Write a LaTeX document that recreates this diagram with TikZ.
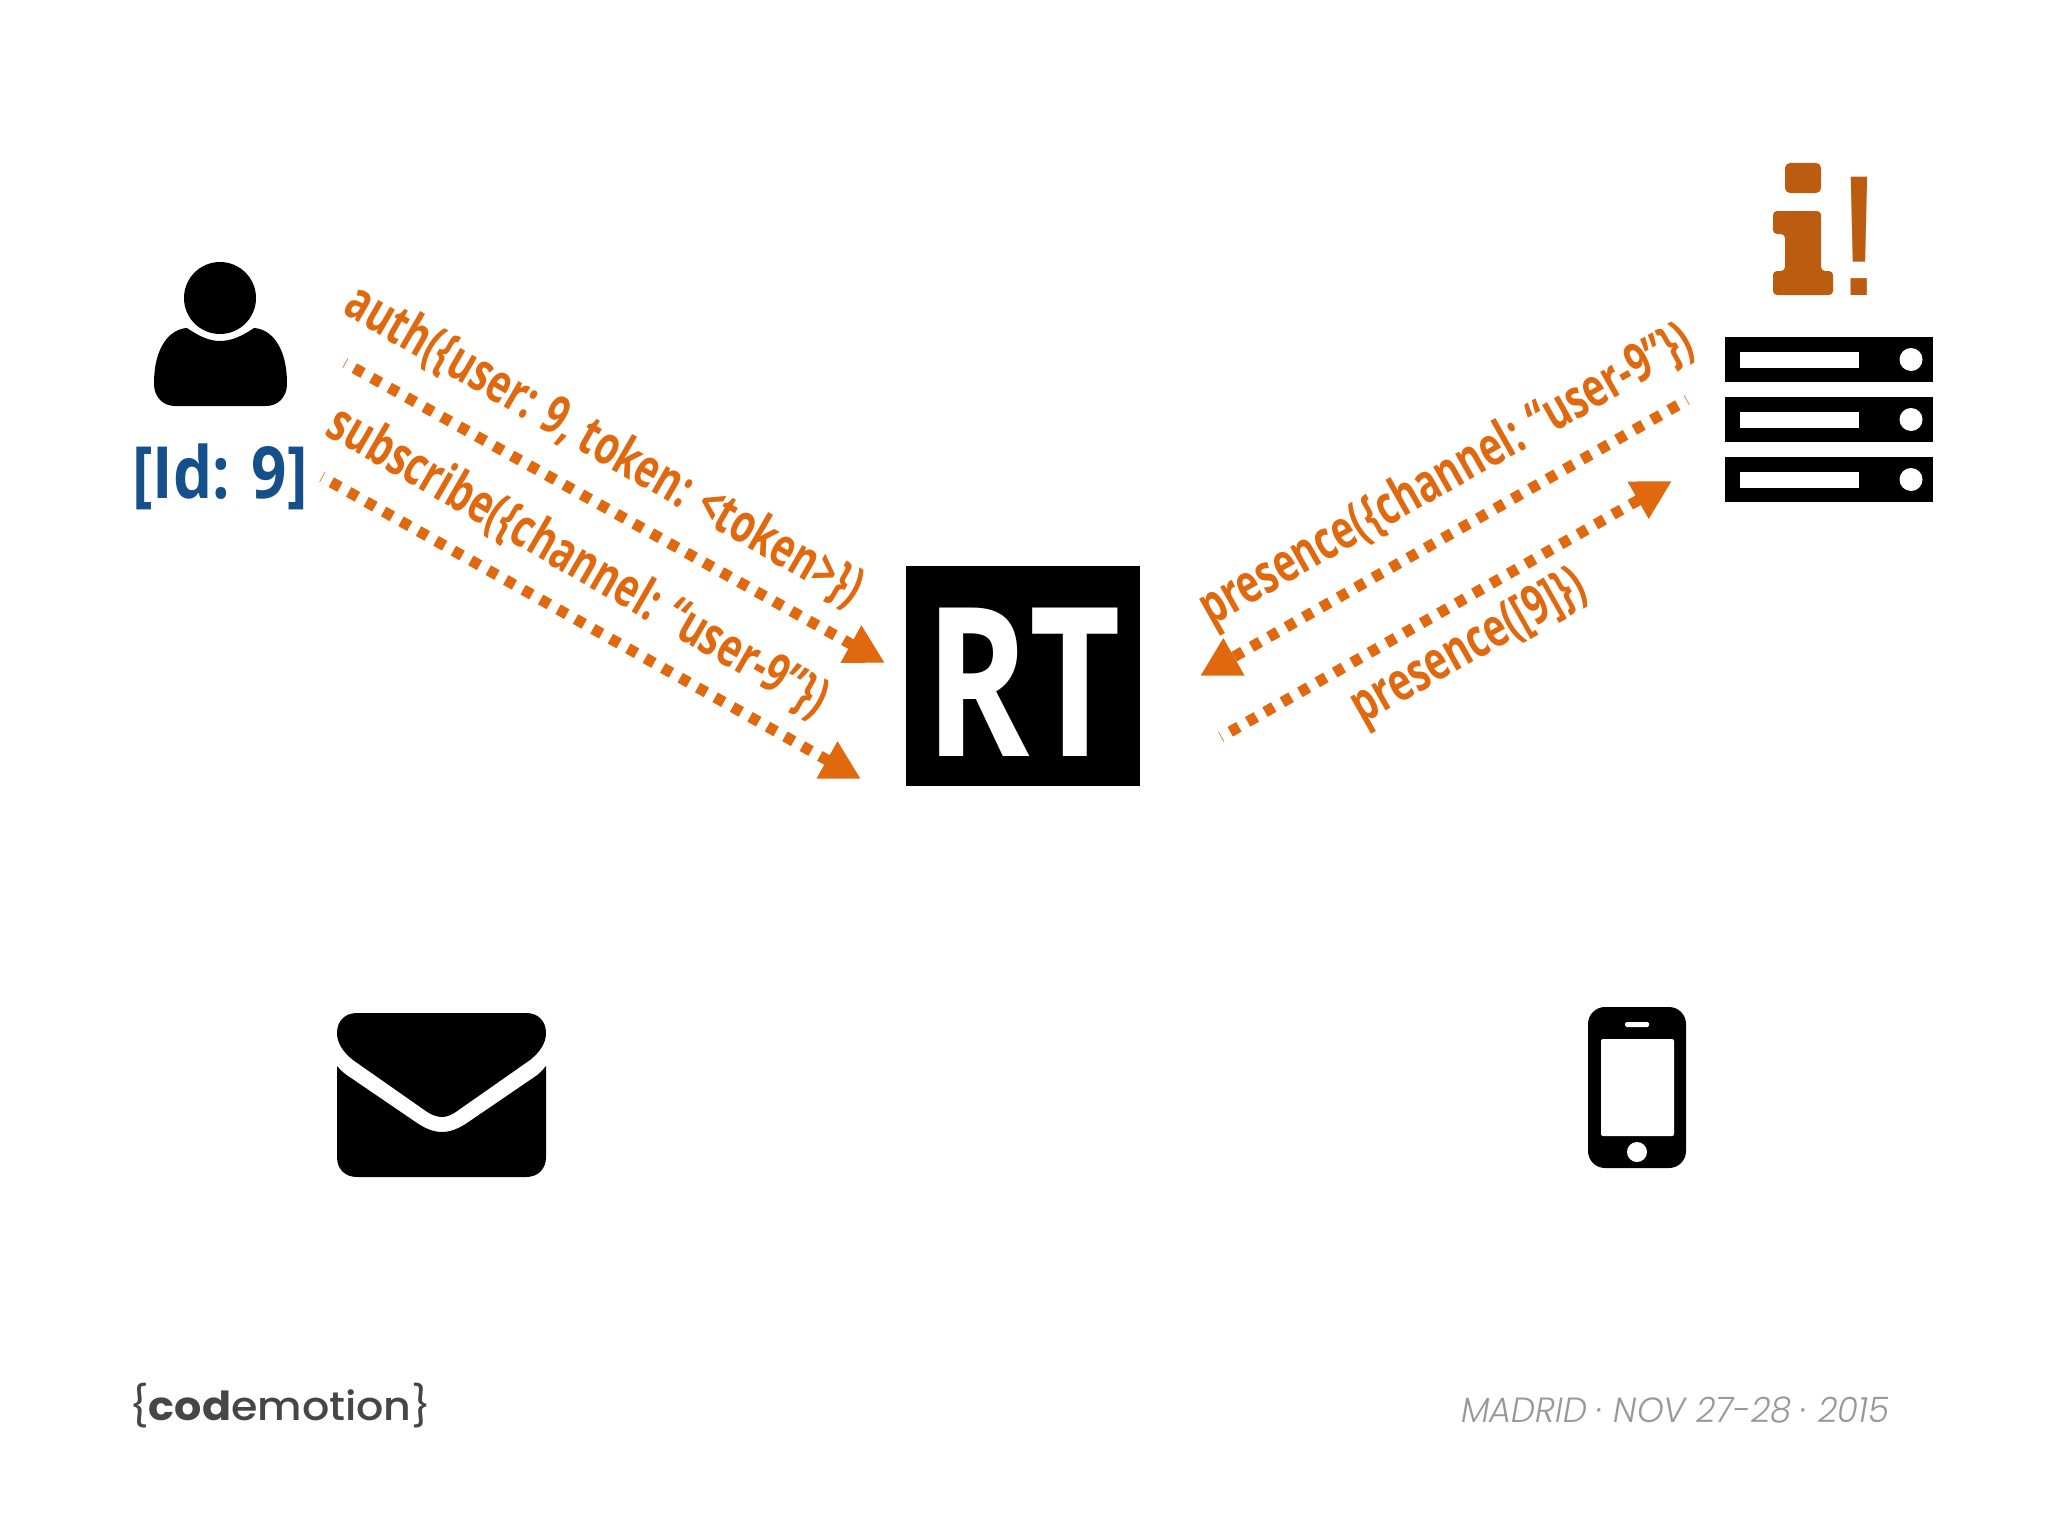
\documentclass[tikz,border=0pt]{standalone}
\usepackage{fontspec}
\usetikzlibrary{arrows.meta}
\setmainfont{Open Sans}
\newfontfamily\cond[FakeStretch=0.71]{Open Sans}
\newfontfamily\idfont[FakeStretch=0.86]{Open Sans}
\newfontfamily\rtfont[FakeStretch=0.76]{Open Sans}
\newfontfamily\bangfont{Liberation Sans}
\newfontfamily\logofont[FakeStretch=1.07]{Poppins}
\newfontfamily\logomed[FakeStretch=1.07]{Poppins Medium}
\newfontfamily\datefont[FakeStretch=0.97,ItalicFont={Poppins Light Italic}]{Poppins Light}
\definecolor{msg}{HTML}{E0690F}
\definecolor{infoc}{HTML}{BC5C10}
\definecolor{idblue}{HTML}{15508A}
\definecolor{logogray}{HTML}{464648}
\definecolor{dategray}{HTML}{98989A}
\tikzset{
  flow/.style={draw=msg,line width=11pt,dash pattern=on 10pt off 10pt,dash phase=9.4pt,
    -{Triangle[length=39pt,width=40pt,fill=msg]}},
  msglabel/.style={text=msg,font=\cond\bfseries\fontsize{54}{54}\selectfont,inner sep=0pt},
  rack/.style={fill=black,draw=none},
  slot/.style={fill=white,draw=none},
}
\begin{document}
\begin{tikzpicture}[x=1pt,y=-1pt]
\useasboundingbox (0,0) rectangle (2048,1536);
% person
\fill[black] (220,298) circle[radius=36pt];
\fill[black] (187,328) .. controls (200,337) and (210,341) .. (220,341)
  .. controls (230,341) and (241,337) .. (254,328)
  .. controls (270,329) and (287,345) .. (287,384)
  .. controls (287,397) and (278,406) .. (266,406)
  -- (175,406) .. controls (163,406) and (154,397) .. (154,384)
  .. controls (154,345) and (171,329) .. (187,328) -- cycle;
\node[anchor=base,inner sep=0pt,text=idblue,font=\idfont\bfseries\fontsize{72}{72}\selectfont] (id) at (220,498) {[Id: 9]};
% RT
\node[fill=black,minimum width=234pt,minimum height=220pt,inner sep=0pt] (rt) at (1023,676) {};
\node[anchor=base,inner sep=0pt,text=white,font=\rtfont\bfseries\fontsize{208}{208}\selectfont] (rtlabel) at (1023,756) {RT};
% connectors
\coordinate (a1) at (345,363); \coordinate (b1) at (885,663);
\coordinate (a2) at (322,477); \coordinate (b2) at (861,779);
\coordinate (a3) at (1687,400); \coordinate (b3) at (1200,676);
\coordinate (a4) at (1221,737); \coordinate (b4) at (1672,481);
\draw[flow] (a1) -- (b1);
\draw[flow] (a2) -- (b2);
\draw[flow] (a3) -- (b3);
\draw[flow] (a4) -- (b4);
% labels
\node[msglabel,rotate=-30] (l1) at (604,446) {auth(\{user: 9, token: <token>\})};
\node[msglabel,rotate=-30] (l2) at (578,562) {subscribe(\{channel: “user-9”\})};
\node[msglabel,rotate=29.5] (l3) at (1447,477) {presence(\{channel: “user-9”\})};
\node[msglabel,rotate=29.5] (l4) at (1470,649) {presence([9]\})};
% info icon
\fill[infoc,rounded corners=5pt] (1785,163) rectangle (1821,193);
\fill[infoc,rounded corners=4pt] (1773,211) -- (1821,211) -- (1821,271) -- (1833,271) -- (1833,295) -- (1773,295) -- (1773,271) -- (1785,271) -- (1785,234) -- (1773,234) -- cycle;
\node[anchor=base,inner sep=0pt,text=infoc,font=\bangfont\fontsize{172}{172}\selectfont] (bang) at (1859,295) {!};
% server
\foreach \t in {337,397,457}{
  \fill[rack] (1725,\t) rectangle (1933,\t+45);
  \fill[slot] (1740,\t+15) rectangle (1859,\t+31);
  \fill[slot] (1911,\t+22.5) circle[radius=11.5pt];
}
% envelope
\fill[black] (337,1033) .. controls (337,1021) and (345,1013) .. (357,1013) -- (526,1013)
  .. controls (538,1013) and (546,1021) .. (546,1033)
  .. controls (546,1043) and (540,1052) .. (530,1060) -- (460,1109)
  .. controls (452,1115) and (447,1117) .. (442,1117)
  .. controls (437,1117) and (431,1115) .. (423,1109) -- (353,1060)
  .. controls (343,1052) and (337,1043) .. (337,1033) -- cycle;
\fill[black] (337,1066) .. controls (341,1071) and (346,1075) .. (351,1078) -- (417,1123)
  .. controls (426,1129) and (434,1132) .. (442,1132)
  .. controls (450,1132) and (458,1129) .. (467,1123) -- (533,1078)
  .. controls (538,1075) and (542,1071) .. (546,1066)
  -- (546,1157) .. controls (546,1169) and (538,1177) .. (526,1177)
  -- (357,1177) .. controls (345,1177) and (337,1169) .. (337,1157) -- cycle;
% phone
\fill[black,rounded corners=17pt] (1588,1007) rectangle (1686,1168);
\fill[white,rounded corners=2pt] (1601,1039) rectangle (1674,1136);
\fill[white,rounded corners=1.5pt] (1625,1022) rectangle (1649,1027);
\fill[white] (1637,1152) circle[radius=10pt];
% footer
\node[anchor=base west,inner sep=0pt,text=logogray,font=\logofont\fontsize{40}{40}\selectfont] (logo) at (129,1420) {\{\textbf{cod}{\logomed emotion}\}};
\node[anchor=base west,inner sep=0pt,text=dategray,font=\datefont\itshape\fontsize{35}{35}\selectfont] (date) at (1461,1422) {MADRID · NOV 27-28 · 2015};
\end{tikzpicture}
\end{document}
